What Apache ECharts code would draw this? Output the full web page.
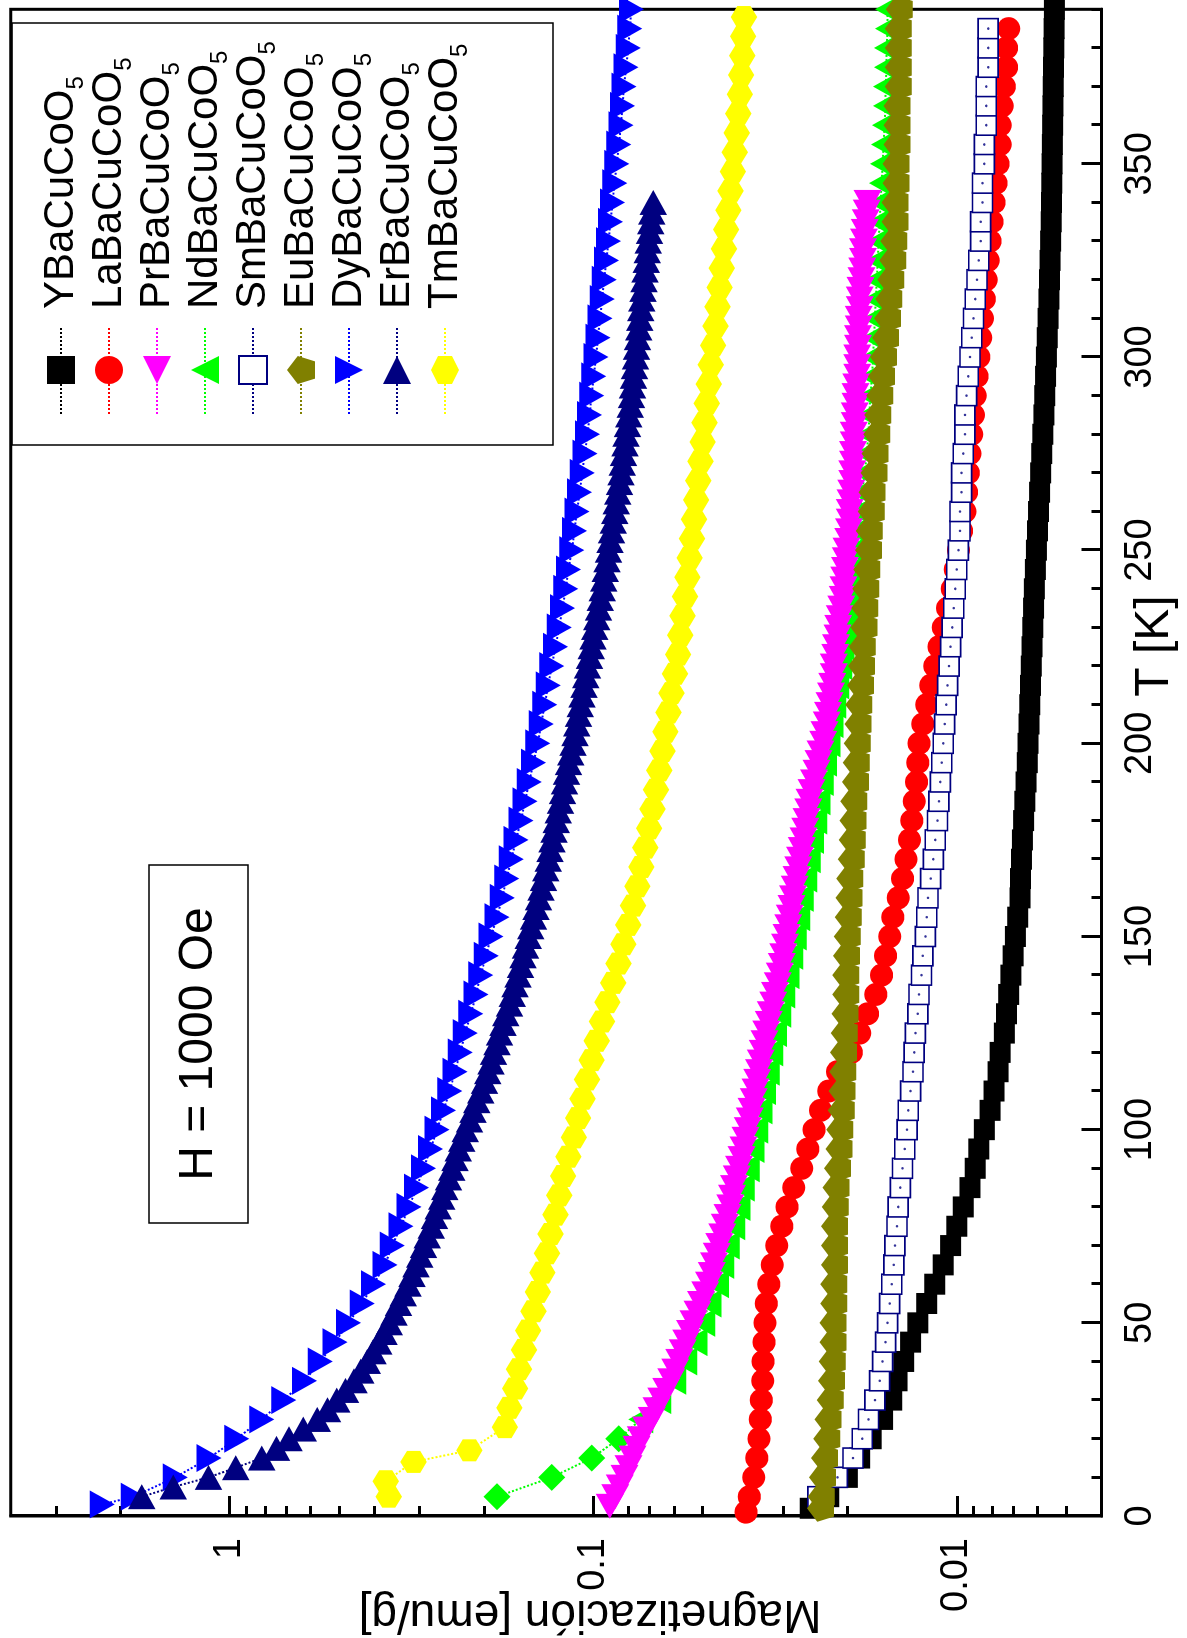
<!DOCTYPE html>
<html><head><meta charset="utf-8">
<script src="https://cdn.jsdelivr.net/npm/echarts@6/dist/echarts.min.js"></script>
<style>
html,body{margin:0;padding:0;background:#fff;width:1187px;height:1638px;overflow:hidden;}
#chart{position:absolute;left:0;top:0;width:1638px;height:1187px;transform-origin:0 0;transform:translate(0,1638px) rotate(-90deg);}
</style></head><body><div id="chart"></div>
<script>
// ---------- data (T in K, magnetization in emu/g) ----------
const seriesNames = ['YBaCuCoO5','LaBaCuCoO5','PrBaCuCoO5','NdBaCuCoO5','SmBaCuCoO5','EuBaCuCoO5','DyBaCuCoO5','ErBaCuCoO5','TmBaCuCoO5'];

const tY = [2,5,10,15,20,25,30,35,40,45,50,55,60,65,70,75,80,85,90,95,100,105,110,115,120,125,130,135,140,145,150,155,160,165,170,175,180,185,190,195,200,205,210,215,220,225,230,235,240,245,250,255,260,265,270,275,280,285,290,295,300,305,310,315,320,325,330,335,340,345,350,355,360,365,370,375,380,385,390];
const mY = [0.0253,0.0225,0.0200,0.0185,0.0172,0.0160,0.0151,0.0146,0.0140,0.0134,0.0128,0.0121,0.0115,0.0109,0.0104,0.0100,0.0096,0.0092,0.0089,0.0087,0.0084,0.0081,0.0079,0.0077,0.0076,0.0074,0.0073,0.0072,0.0071,0.0070,0.0069,0.0068,0.0067,0.00668,0.00664,0.0066,0.00655,0.0065,0.00645,0.0064,0.00637,0.00633,0.0063,0.00627,0.00624,0.00621,0.00618,0.00615,0.00612,0.00608,0.00604,0.0060,0.00596,0.00592,0.00588,0.00584,0.0058,0.00576,0.00573,0.0057,0.00567,0.00564,0.00561,0.00558,0.00556,0.00554,0.00552,0.0055,0.00549,0.00548,0.00547,0.00546,0.00545,0.00544,0.00543,0.00542,0.00541,0.0054,0.00539];

const tLa = [1,5,10,15,20,25,30,35,40,45,50,55,60,65,70,75,80,85,90,95,100,105,110,115,120,125,130,135,140,145,150,155,160,165,170,175,180,185,190,195,200,205,210,215,220,225,230,235,240,245,250,255,260,265,270,275,280,285,290,295,300,305,310,315,320,325,330,335,340,345,350,355,360,365,370,375,380,385];
const mLa = [0.0380,0.0372,0.0362,0.0355,0.0350,0.0347,0.0345,0.0342,0.0341,0.0339,0.0337,0.0334,0.0329,0.0322,0.0313,0.0303,0.0293,0.0281,0.0267,0.0257,0.0247,0.0237,0.0225,0.0213,0.0195,0.0185,0.0176,0.0167,0.0161,0.0157,0.0153,0.0150,0.0145,0.0141,0.0138,0.0135,0.0133,0.0131,0.0129,0.0128,0.0127,0.0124,0.0121,0.0118,0.0115,0.0112,0.0109,0.0106,0.0103,0.0101,0.0099,0.0097,0.0095,0.0094,0.0093,0.0092,0.0091,0.0090,0.0089,0.0088,0.0087,0.0086,0.0085,0.0084,0.0083,0.0082,0.0081,0.0080,0.0079,0.0078,0.0077,0.0076,0.0076,0.0075,0.0074,0.0073,0.0073,0.0072];

const tPr = [2.5,5,7.5,10,12.5,15,17.5,20,22.5,25,27.5,30,32.5,35,37.5,40,42.5,45,47.5,50,52.5,55,57.5,60,62.5,65,67.5,70,72.5,75,77.5,80,82.5,85,87.5,90,92.5,95,97.5,100,102.5,105,107.5,110,112.5,115,117.5,120,122.5,125,127.5,130,132.5,135,137.5,140,142.5,145,147.5,150,152.5,155,157.5,160,162.5,165,167.5,170,172.5,175,177.5,180,182.5,185,187.5,190,192.5,195,197.5,200,202.5,205,207.5,210,212.5,215,217.5,220,222.5,225,227.5,230,232.5,235,237.5,240,242.5,245,247.5,250,252.5,255,257.5,260,262.5,265,267.5,270,272.5,275,277.5,280,282.5,285,287.5,290,292.5,295,297.5,300,302.5,305,307.5,310,312.5,315,317.5,320,322.5,325,327.5,330,332.5,335,337.5,340];
const mPr = [0.090,0.087,0.0845,0.082,0.080,0.078,0.076,0.074,0.0715,0.069,0.067,0.065,0.063,0.061,0.0595,0.058,0.0567,0.0555,0.0542,0.053,0.0517,0.0505,0.0492,0.048,0.0472,0.0465,0.0457,0.045,0.0442,0.0435,0.0427,0.042,0.0415,0.041,0.0403,0.0397,0.0391,0.0386,0.0381,0.0376,0.0371,0.0367,0.0362,0.0358,0.0354,0.035,0.0346,0.0342,0.0338,0.0334,0.0329,0.0325,0.032,0.0316,0.0311,0.0307,0.0303,0.030,0.0297,0.0294,0.0291,0.0288,0.0285,0.0282,0.0279,0.0276,0.0273,0.027,0.0267,0.0264,0.0261,0.0259,0.0256,0.0254,0.0251,0.0247,0.0243,0.0240,0.0237,0.0233,0.0231,0.0228,0.0226,0.0224,0.0222,0.0220,0.0218,0.0218,0.0216,0.0215,0.0213,0.0212,0.0210,0.0208,0.0206,0.0205,0.0204,0.0203,0.0202,0.0201,0.0199,0.0198,0.0197,0.0197,0.0196,0.0195,0.0194,0.0194,0.0193,0.0193,0.0192,0.0192,0.0191,0.0191,0.0190,0.0190,0.0189,0.0188,0.0188,0.0188,0.0187,0.0187,0.0186,0.0186,0.0185,0.0185,0.0184,0.0183,0.0182,0.0181,0.0181,0.0180,0.0179,0.0178,0.0177,0.0176];

const tNd = [5,10,15,20,25,30,35,40,45,50,55,60,65,70,75,80,85,90,95,100,105,110,115,120,125,130,135,140,145,150,155,160,165,170,175,180,185,190,195,200,205,210,215,220,225,230,235,240,245,250,255,260,265,270,275,280,285,290,295,300,305,310,315,320,325,330,335,340,345,350,355,360,365,370,375,380,385,390];
const mNd = [0.184,0.130,0.101,0.085,0.074,0.066,0.060,0.056,0.0525,0.050,0.048,0.0458,0.0443,0.0428,0.0413,0.0400,0.0389,0.0377,0.0366,0.0357,0.0348,0.0340,0.0332,0.0325,0.0317,0.0309,0.0301,0.0293,0.0286,0.0280,0.0274,0.0268,0.0262,0.0256,0.0251,0.0246,0.0241,0.0236,0.0231,0.0226,0.0222,0.0218,0.0214,0.0210,0.0207,0.0203,0.0200,0.0197,0.0194,0.0191,0.0188,0.0185,0.0182,0.0179,0.0177,0.0175,0.0174,0.0173,0.0171,0.0170,0.0169,0.0168,0.0167,0.0166,0.0165,0.0164,0.0163,0.0162,0.0161,0.0160,0.0159,0.0158,0.0157,0.0157,0.0156,0.0156,0.0155,0.0155];

const tSm = [5,10,15,20,25,30,35,40,45,50,55,60,65,70,75,80,85,90,95,100,105,110,115,120,125,130,135,140,145,150,155,160,165,170,175,180,185,190,195,200,205,210,215,220,225,230,235,240,245,250,255,260,265,270,275,280,285,290,295,300,305,310,315,320,325,330,335,340,345,350,355,360,365,370,375,380,385];
const mSm = [0.0241,0.0213,0.0193,0.0182,0.0175,0.0168,0.0163,0.0160,0.0157,0.0155,0.0153,0.0151,0.0149,0.0148,0.0146,0.0145,0.0143,0.0141,0.0139,0.0137,0.0136,0.0134,0.0132,0.0131,0.0130,0.0128,0.0127,0.0125,0.0124,0.0122,0.0121,0.0120,0.0118,0.0116,0.01146,0.0113,0.0112,0.0111,0.0110,0.0109,0.0108,0.0107,0.0106,0.0105,0.0104,0.0103,0.0102,0.0101,0.0100,0.0099,0.0098,0.0098,0.0097,0.0097,0.0096,0.0095,0.0095,0.0094,0.0093,0.0092,0.0091,0.0090,0.0089,0.0088,0.0087,0.0086,0.0086,0.0085,0.0085,0.0084,0.0084,0.0083,0.0083,0.0083,0.0082,0.0082,0.0082];

const tEu = [2,5,10,15,20,25,30,35,40,45,50,55,60,65,70,75,80,85,90,95,100,105,110,115,120,125,130,135,140,145,150,155,160,165,170,175,180,185,190,195,200,205,210,215,220,225,230,235,240,245,250,255,260,265,270,275,280,285,290,295,300,305,310,315,320,325,330,335,340,345,350,355,360,365,370,375,380,385,390];
const mEu = [0.0237,0.0236,0.0234,0.0231,0.0228,0.0226,0.0223,0.0221,0.0220,0.0219,0.0219,0.0218,0.0218,0.0217,0.0217,0.0217,0.0216,0.0215,0.0213,0.0211,0.0210,0.0208,0.0207,0.0206,0.0205,0.0204,0.0203,0.0202,0.0202,0.0201,0.0200,0.0199,0.0198,0.0197,0.0195,0.0194,0.0193,0.0192,0.0190,0.0189,0.0188,0.0187,0.0186,0.0184,0.0183,0.0182,0.0180,0.0179,0.0178,0.0177,0.0175,0.0174,0.0172,0.0171,0.0169,0.0168,0.0166,0.0165,0.0163,0.0161,0.0159,0.0157,0.0155,0.0154,0.0152,0.0150,0.0149,0.0148,0.0148,0.0147,0.0147,0.0146,0.0146,0.0146,0.0145,0.0145,0.0145,0.0145,0.0144];

const tDy = [3,5,10,15,20,25,30,35,40,45,50,55,60,65,70,75,80,85,90,95,100,105,110,115,120,125,130,135,140,145,150,155,160,165,170,175,180,185,190,195,200,205,210,215,220,225,230,235,240,245,250,255,260,265,270,275,280,285,290,295,300,305,310,315,320,325,330,335,340,345,350,355,360,365,370,375,380,385,390];
const mDy = [2.24,1.84,1.41,1.14,0.956,0.816,0.710,0.622,0.563,0.513,0.471,0.432,0.402,0.374,0.357,0.338,0.321,0.306,0.293,0.280,0.269,0.258,0.248,0.240,0.232,0.225,0.217,0.210,0.204,0.197,0.191,0.184,0.178,0.173,0.168,0.163,0.158,0.154,0.150,0.146,0.142,0.139,0.136,0.133,0.130,0.127,0.124,0.1215,0.119,0.117,0.1145,0.1126,0.1108,0.109,0.1072,0.1054,0.1036,0.1023,0.101,0.0996,0.0983,0.097,0.0958,0.0945,0.0933,0.092,0.0908,0.0896,0.0885,0.0873,0.0862,0.085,0.0839,0.0831,0.0823,0.0812,0.0801,0.0793,0.0785];

const tEr = [5,7.5,10,12.5,15,17.5,20,22.5,25,27.5,30,32.5,35,37.5,40,42.5,45,47.5,50,52.5,55,57.5,60,62.5,65,67.5,70,72.5,75,77.5,80,82.5,85,87.5,90,92.5,95,97.5,100,102.5,105,107.5,110,112.5,115,117.5,120,122.5,125,127.5,130,132.5,135,137.5,140,142.5,145,147.5,150,152.5,155,157.5,160,162.5,165,167.5,170,172.5,175,177.5,180,182.5,185,187.5,190,192.5,195,197.5,200,202.5,205,207.5,210,212.5,215,217.5,220,222.5,225,227.5,230,232.5,235,237.5,240,242.5,245,247.5,250,252.5,255,257.5,260,262.5,265,267.5,270,272.5,275,277.5,280,282.5,285,287.5,290,292.5,295,297.5,300,302.5,305,307.5,310,312.5,315,317.5,320,322.5,325,327.5,330,332.5,335,337.5,340];
const mEr = [1.744,1.430,1.143,0.962,0.816,0.743,0.687,0.627,0.574,0.538,0.507,0.480,0.455,0.436,0.418,0.403,0.389,0.376,0.364,0.353,0.343,0.333,0.323,0.315,0.307,0.300,0.293,0.286,0.279,0.273,0.267,0.261,0.256,0.250,0.245,0.240,0.235,0.230,0.225,0.219,0.214,0.209,0.204,0.199,0.195,0.191,0.188,0.184,0.181,0.177,0.174,0.170,0.167,0.164,0.161,0.1585,0.156,0.1535,0.151,0.1485,0.146,0.1437,0.1415,0.1392,0.137,0.135,0.133,0.1314,0.1298,0.1281,0.1264,0.1247,0.123,0.1215,0.120,0.1185,0.117,0.1153,0.1137,0.1123,0.111,0.1098,0.1086,0.1073,0.106,0.1048,0.1036,0.1024,0.1013,0.1001,0.099,0.0978,0.0967,0.0956,0.0945,0.0935,0.0926,0.0917,0.0908,0.0899,0.089,0.0881,0.0873,0.0864,0.0856,0.0847,0.0839,0.0832,0.0825,0.0818,0.0812,0.0805,0.0798,0.0791,0.0785,0.078,0.0775,0.077,0.0765,0.076,0.0755,0.075,0.0745,0.074,0.0735,0.073,0.0725,0.072,0.0715,0.071,0.0706,0.070,0.0695,0.069,0.0684];

const tTm = [5,9,14,17,23,28,33,38,43,48,53,58,63,68,73,78,83,88,93,98,103,108,113,118,123,128,133,138,143,148,153,158,163,168,173,178,183,188,193,198,203,208,213,218,223,228,233,238,243,248,253,258,263,268,273,278,283,288,293,298,303,308,313,318,323,328,333,338,343,348,353,358,363,368,373,378,383,388];
const mTm = [0.365,0.372,0.312,0.219,0.175,0.170,0.164,0.160,0.155,0.151,0.146,0.142,0.138,0.134,0.131,0.127,0.124,0.121,0.117,0.113,0.110,0.107,0.104,0.101,0.0978,0.0946,0.0914,0.0881,0.0852,0.0826,0.0801,0.0777,0.0756,0.0737,0.0719,0.0702,0.0687,0.0672,0.0658,0.0645,0.0633,0.0621,0.0609,0.0596,0.0584,0.0576,0.0568,0.0559,0.0551,0.0543,0.0535,0.0528,0.0521,0.0514,0.0507,0.0500,0.0494,0.0487,0.0481,0.0475,0.0468,0.0461,0.0455,0.0449,0.0443,0.0437,0.0431,0.0425,0.0419,0.0413,0.0408,0.0403,0.0399,0.0395,0.0392,0.0389,0.0387,0.0385];

const mMajor = [0.01,0.1,1];
const mMinor = [0.005,0.006,0.007,0.008,0.009,0.02,0.03,0.04,0.05,0.06,0.07,0.08,0.09,0.2,0.3,0.4,0.5,0.6,0.7,0.8,0.9,2,3];

// ---------- styling ----------
const FF = '"Liberation Sans", Arial, Helvetica, sans-serif';
const P_LEFT = 'path://M0,5L10,0L10,10Z';
const P_UP = 'path://M5,0L10,10L0,10Z';
const P_DOWN = 'path://M0,0L10,0L5,10Z';
const P_RIGHT = 'path://M0,0L10,5L0,10Z';
const P_PENT = 'path://M50,0L97.6,34.5L79.4,90.5L20.6,90.5L2.4,34.5Z';
const P_HEX = 'path://M50,0L93.3,25L93.3,75L50,100L6.7,75L6.7,25Z';

const spec = [
  {t:tY, m:mY, color:'#000000', symbol:'rect', size:[21,21], z:2},
  {t:tLa, m:mLa, color:'#ff0000', symbol:'circle', size:23, z:3},
  {t:tPr, m:mPr, color:'#ff00ff', symbol:P_LEFT, size:[25,28], z:5},
  {t:tNd, m:mNd, color:'#00ff00', symbol:P_UP, size:[28,25], lowT:'diamond', z:4},
  {t:tSm, m:mSm, color:'#000080', symbol:'rect', size:20, open:true, z:6},
  {t:tEu, m:mEu, color:'#808000', symbol:P_PENT, size:[27,27], z:8},
  {t:tDy, m:mDy, color:'#0000ff', symbol:P_DOWN, size:[28,25], z:9},
  {t:tEr, m:mEr, color:'#000080', symbol:P_RIGHT, size:[25,27.5], z:10},
  {t:tTm, m:mTm, color:'#ffff00', symbol:P_HEX, size:[22,26.4], z:11}
];

const series = spec.map((s, k) => ({
  name: seriesNames[k],
  type: 'line',
  xAxisIndex: 0, yAxisIndex: 0,
  data: s.t.map((tv, i) => {
    const item = {value: [tv, s.m[i]]};
    if (s.lowT && tv < 22) { item.symbol = s.lowT; item.symbolSize = [27, 27]; }
    return item;
  }),
  symbol: s.symbol,
  symbolSize: s.size,
  showSymbol: true,
  showAllSymbol: true,
  itemStyle: s.open ? {color:'#ffffff', borderColor:s.color, borderWidth:1.6, opacity:1}
                    : {color:s.color, borderWidth:0, opacity:1},
  lineStyle: {color:s.color, width:2, type:'dotted'},
  emphasis: {disabled:true},
  animation: false,
  z: s.z
}));
// center dot of the open squares
series.push({
  name: 'SmDot', type: 'scatter', xAxisIndex: 0, yAxisIndex: 0,
  data: tSm.map((tv, i) => [tv, mSm[i]]),
  symbol: 'circle', symbolSize: 2.5,
  itemStyle: {color:'#000080'}, silent: true, animation:false, z: 7,
  emphasis: {disabled:true}
});

const chart = echarts.init(document.getElementById('chart'), null, {renderer:'canvas'});
chart.setOption({
  animation: false,
  backgroundColor: '#ffffff',
  grid: {left:122, right:9.3, top:10.7, bottom:85.5, show:true, borderColor:'#000', borderWidth:3, backgroundColor:'transparent'},
  xAxis: [
    {type:'value', min:0, max:390, interval:50, position:'bottom',
     axisLine:{show:true, lineStyle:{color:'#000', width:3}},
     axisTick:{show:true, inside:true, length:20, lineStyle:{color:'#000', width:3}},
     axisLabel:{show:true, color:'#000', fontSize:38, fontFamily:FF, margin:20, showMaxLabel:false, showMinLabel:true},
     splitLine:{show:false}},
    {type:'value', min:0, max:390, interval:10, position:'bottom',
     axisLine:{show:false},
     axisTick:{show:true, inside:true, length:10, lineStyle:{color:'#000', width:3}},
     axisLabel:{show:false}, splitLine:{show:false}}
  ],
  yAxis: [
    {type:'log', logBase:10, min:0.004, max:4, position:'left',
     axisLine:{show:true, lineStyle:{color:'#000', width:3}},
     axisTick:{show:true, inside:true, length:20, lineStyle:{color:'#000', width:3}, customValues: mMajor},
     axisLabel:{show:true, color:'#000', fontSize:38, fontFamily:FF, margin:22, customValues: mMajor,
       formatter: v => String(parseFloat(Number(v).toPrecision(4)))},
     splitLine:{show:false}, minorTick:{show:false}},
    {type:'log', logBase:10, min:0.004, max:4, position:'left',
     axisLine:{show:false},
     axisTick:{show:true, inside:true, length:10, lineStyle:{color:'#000', width:3}, customValues: mMinor},
     axisLabel:{show:false}, splitLine:{show:false}}
  ],
  legend: {
    data: seriesNames,
    orient: 'vertical', left: 1223, top: 40, padding: 0, itemGap: 0,
    itemWidth: 88, itemHeight: 35, selectedMode: false,
    formatter: n => '{a|' + n.slice(0, -1) + '}{s|' + n.slice(-1) + '}',
    textStyle: {color:'#000', fontFamily:FF, fontSize:42,
      rich: {
        a: {fontSize:42, lineHeight:54, fontFamily:FF, color:'#000', padding:[0,0,0,12]},
        s: {fontSize:24, lineHeight:4, verticalAlign:'bottom', fontFamily:FF, color:'#000'}
      }}
  },
  graphic: [
    {type:'rect', shape:{x:1193, y:12, width:422, height:541}, style:{fill:'none', stroke:'#000', lineWidth:1.5}, z:100, silent:true},
    {type:'rect', shape:{x:415, y:149, width:358, height:99}, style:{fill:'#fff', stroke:'#000', lineWidth:1.5}, z:100, silent:true},
    {type:'text', x:594, y:199, style:{text:'H = 1000 Oe', fontSize:48, fontFamily:FF, fill:'#000', align:'center', verticalAlign:'middle'}, z:101, silent:true},
    {type:'text', x:992, y:1155, style:{text:'T [K]', fontSize:48, fontFamily:FF, fill:'#000', align:'center', verticalAlign:'middle'}, z:101, silent:true},
    {type:'text', x:24, y:590, rotation:Math.PI/2, style:{text:'Magnetización [emu/g]', fontSize:46, fontFamily:FF, fill:'#000', align:'center', verticalAlign:'middle'}, z:101, silent:true}
  ],
  series: series
});
</script>
</body></html>
